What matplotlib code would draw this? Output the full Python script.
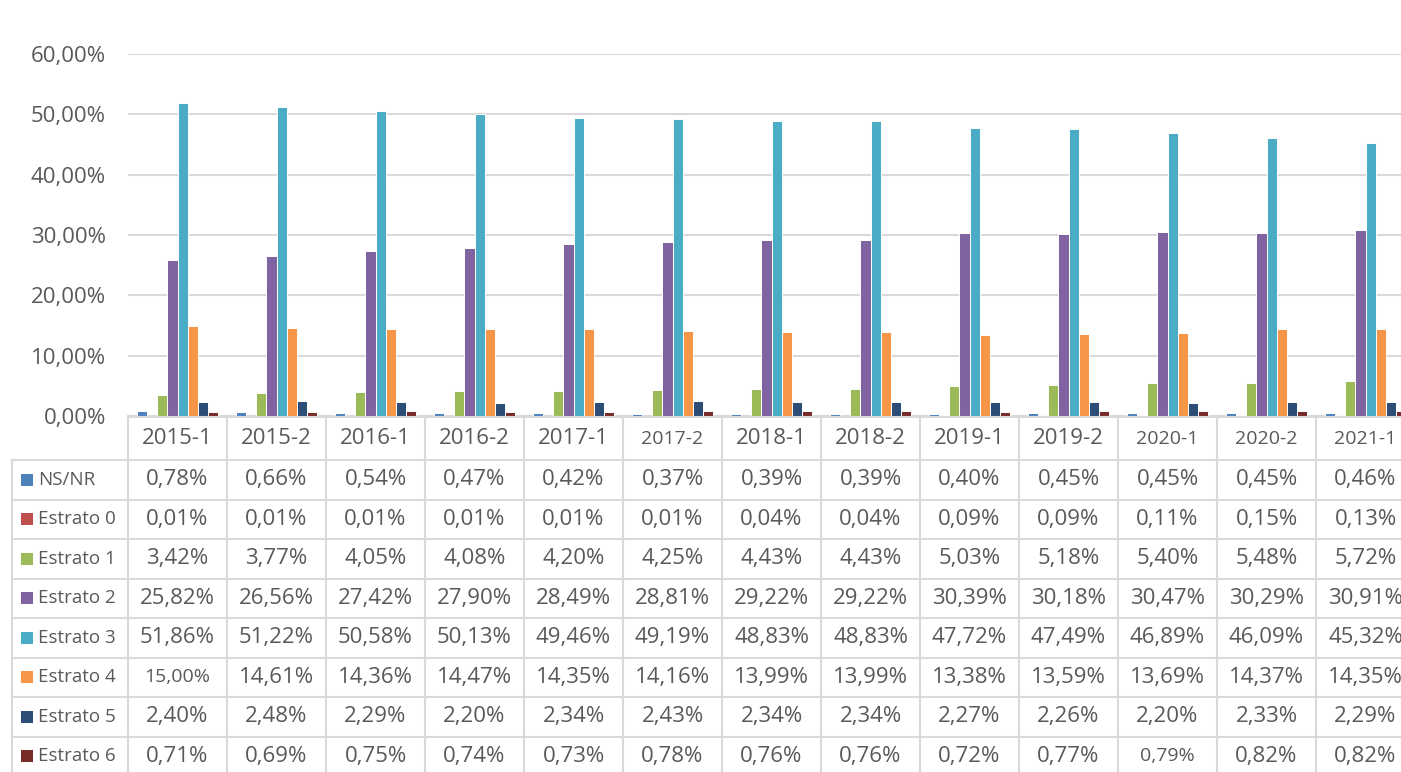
import matplotlib.pyplot as plt
from matplotlib.patches import Rectangle

plt.rcParams["font.family"] = ["Open Sans", "DejaVu Sans"]

periods = ["2015-1", "2015-2", "2016-1", "2016-2", "2017-1", "2017-2", "2018-1",
           "2018-2", "2019-1", "2019-2", "2020-1", "2020-2", "2021-1"]
series_names = ["NS/NR", "Estrato 0", "Estrato 1", "Estrato 2",
                "Estrato 3", "Estrato 4", "Estrato 5", "Estrato 6"]
ns_nr = [0.78, 0.66, 0.54, 0.47, 0.42, 0.37, 0.39, 0.39, 0.40, 0.45, 0.45, 0.45, 0.46]
estrato_0 = [0.01, 0.01, 0.01, 0.01, 0.01, 0.01, 0.04, 0.04, 0.09, 0.09, 0.11, 0.15, 0.13]
estrato_1 = [3.42, 3.77, 4.05, 4.08, 4.20, 4.25, 4.43, 4.43, 5.03, 5.18, 5.40, 5.48, 5.72]
estrato_2 = [25.82, 26.56, 27.42, 27.90, 28.49, 28.81, 29.22, 29.22, 30.39, 30.18, 30.47, 30.29, 30.91]
estrato_3 = [51.86, 51.22, 50.58, 50.13, 49.46, 49.19, 48.83, 48.83, 47.72, 47.49, 46.89, 46.09, 45.32]
estrato_4 = [15.00, 14.61, 14.36, 14.47, 14.35, 14.16, 13.99, 13.99, 13.38, 13.59, 13.69, 14.37, 14.35]
estrato_5 = [2.40, 2.48, 2.29, 2.20, 2.34, 2.43, 2.34, 2.34, 2.27, 2.26, 2.20, 2.33, 2.29]
estrato_6 = [0.71, 0.69, 0.75, 0.74, 0.73, 0.78, 0.76, 0.76, 0.72, 0.77, 0.79, 0.82, 0.82]
y_ticks = [0, 10, 20, 30, 40, 50, 60]

all_series = [ns_nr, estrato_0, estrato_1, estrato_2,
              estrato_3, estrato_4, estrato_5, estrato_6]
colors = ["#4F81BD", "#C0504D", "#9BBB59", "#8064A2",
          "#4BACC6", "#F79646", "#2C4D75", "#772C2A"]

# cells drawn with a smaller font in the original sheet
small_headers = {5, 10, 11, 12}
small_cells = {(5, 0), (7, 10)}

TXT = "#595959"
GRID = "#D9D9D9"
W, H = 1401, 772


def pct(v):
    return ("%.2f%%" % v).replace(".", ",")


fig = plt.figure(figsize=(W / 100, H / 100), dpi=100)

# plot area: x from 128 px to 1415 px (last column is cut by the image edge)
left, right = 128, 1415
top, base = 54, 416
ax = fig.add_axes([left / W, (H - base) / H, (right - left) / W, (base - top) / H])
n = len(periods)
slot = 0.1025
for i, (name, vals, col) in enumerate(zip(series_names, all_series, colors)):
    xs = [k + (i - 3.5) * slot for k in range(n)]
    ax.bar(xs, vals, width=slot, color=col, edgecolor="white", linewidth=0.7,
           zorder=3)
ax.set_xlim(-0.5, n - 0.5)
ax.set_ylim(0, 60)
ax.set_yticks(y_ticks)
ax.set_yticklabels([pct(v) for v in y_ticks], fontsize=16, color=TXT)
ax.tick_params(axis="y", length=0, pad=16)
ax.set_xticks([])
ax.grid(axis="y", color=GRID, linewidth=1.5, zorder=0)
for s in ax.spines.values():
    s.set_visible(False)

# data table below the plot, sharing the category scale
tab = fig.add_axes([left / W, (H - 776) / H, (right - left) / W, (776 - base) / H])
tab.set_xlim(-0.5, n - 0.5)
tab.set_ylim(776, base)
tab.axis("off")
px = (n) / (right - left)  # data units per pixel
x_lab = -0.5 - (left - 12) * px
head_bot = 460
row_h = 39.5
lw = 1.5

tab.plot([-0.5, n - 0.5], [base + 1, base + 1], color=GRID, lw=lw, clip_on=False)
tab.plot([x_lab, n - 0.5], [head_bot, head_bot], color=GRID, lw=lw, clip_on=False)
for k in range(n + 1):
    tab.plot([k - 0.5, k - 0.5], [base, 776], color=GRID, lw=lw, clip_on=False)
tab.plot([x_lab, x_lab], [head_bot, 776], color=GRID, lw=lw, clip_on=False)
for r in range(1, len(series_names)):
    yy = head_bot + r * row_h
    tab.plot([x_lab, n - 0.5], [yy, yy], color=GRID, lw=lw, clip_on=False)

for k, p in enumerate(periods):
    fs = 14 if k in small_headers else 16
    tab.text(k, (base + head_bot) / 2 + 1, p, ha="center", va="center",
             fontsize=fs, color=TXT, clip_on=False)

for r, (name, vals, col) in enumerate(zip(series_names, all_series, colors)):
    yc = head_bot + (r + 0.5) * row_h
    tab.add_patch(Rectangle((x_lab + 9 * px, yc - 6), 12 * px, 12,
                            facecolor=col, edgecolor="none", clip_on=False))
    tab.text(x_lab + 26 * px, yc, name, ha="left", va="center",
             fontsize=13.5, color=TXT, clip_on=False)
    for k, v in enumerate(vals):
        fs = 14 if (r, k) in small_cells else 16
        tab.text(k, yc, pct(v), ha="center", va="center",
                 fontsize=fs, color=TXT, clip_on=False)

fig.savefig("out.png", dpi=100)
